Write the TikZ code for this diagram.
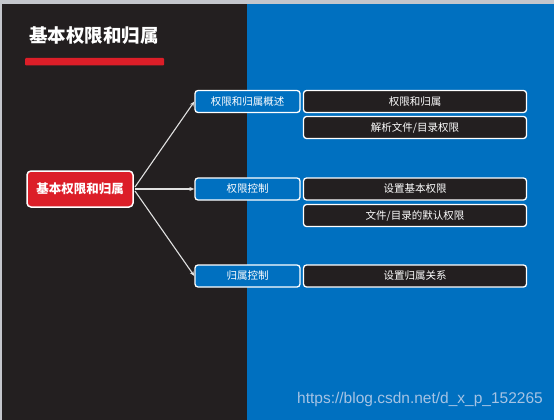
\documentclass[tikz,border=0pt]{standalone}
\usepackage{fontspec}
\setmainfont{Liberation Sans}
\newfontfamily\cjk{Noto Sans CJK SC}
\usetikzlibrary{arrows.meta}
\definecolor{darkbg}{RGB}{35,31,32}
\definecolor{bluebg}{RGB}{0,112,192}
\definecolor{redbox}{RGB}{220,30,40}
\definecolor{topgray}{RGB}{196,198,204}
\definecolor{wmark}{RGB}{165,195,228}
\definecolor{linegray}{RGB}{225,225,225}
\tikzset{
  lvltwo/.style={draw=white, line width=1.3pt, rounded corners=3pt, fill=bluebg,
    minimum width=105pt, minimum height=22pt, inner sep=0pt, text=white,
    font=\cjk\fontsize{10.5}{12}\selectfont},
  lvlthree/.style={draw=white, line width=1.3pt, rounded corners=3pt, fill=darkbg,
    minimum width=223pt, minimum height=22pt, inner sep=0pt, text=white,
    font=\cjk\fontsize{10.5}{12}\selectfont},
  conn/.style={draw=linegray, line width=1.1pt, -{Stealth[length=5pt,width=4pt]}},
}
\begin{document}
\begin{tikzpicture}[x=1pt,y=-1pt]
\useasboundingbox (0,0) rectangle (554,420);
\fill[topgray] (0,0) rectangle (554,4);
\fill[topgray] (0,0) rectangle (1.5,420);
\fill[darkbg] (1.5,4) rectangle (247,420);
\fill[bluebg] (247,4) rectangle (554,420);
% title
\node[anchor=west, text=white, font=\cjk\bfseries\fontsize{18.5}{20}\selectfont, inner sep=0pt] (title) at (29,36) {基本权限和归属};
\fill[redbox, rounded corners=1pt] (25,58) rectangle (164,65.5);
% root
\node[draw=white, line width=1.5pt, rounded corners=4pt, fill=redbox, text=white,
  minimum width=106pt, minimum height=36pt, inner sep=0pt,
  font=\cjk\bfseries\fontsize{12.5}{14}\selectfont] (root) at (80,189) {基本权限和归属};
% level 2
\node[lvltwo] (a) at (247.5,101.5) {权限和归属概述};
\node[lvltwo] (b) at (247.5,189) {权限控制};
\node[lvltwo] (c) at (247.5,276) {归属控制};
% level 3
\node[lvlthree] (a1) at (415,101.5) {权限和归属};
\node[lvlthree] (a2) at (415,127.5) {解析文件/目录权限};
\node[lvlthree] (b1) at (415,189) {设置基本权限};
\node[lvlthree] (b2) at (415,215.5) {文件/目录的默认权限};
\node[lvlthree] (c1) at (415,276) {设置归属关系};
% connectors
\coordinate (s1) at (135,187);
\coordinate (s2) at (135,189);
\coordinate (s3) at (135,191);
\draw[conn] (s1) -- (a.west);
\draw[conn] (s2) -- (b.west);
\draw[conn] (s3) -- (c.west);
% watermark
\node[anchor=east, text=wmark, font=\fontsize{15.5}{17}\selectfont, inner sep=0pt] (wm) at (543,399) {https://blog.csdn.net/d\_x\_p\_152265};
\end{tikzpicture}
\end{document}
